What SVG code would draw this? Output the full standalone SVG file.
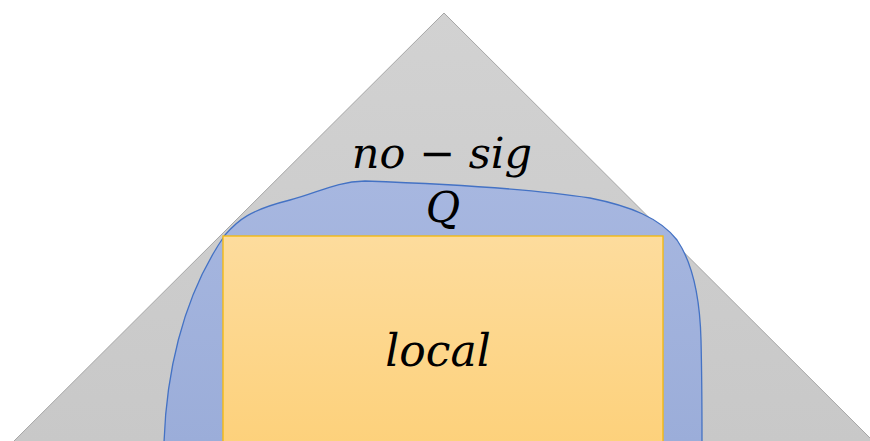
<svg xmlns="http://www.w3.org/2000/svg" width="870" height="441" viewBox="0 0 870 441">
<defs>
<linearGradient id="gGray" x1="0" y1="0" x2="0" y2="1"><stop offset="0" stop-color="#d2d2d2"/><stop offset="1" stop-color="#c8c8c8"/></linearGradient>
<linearGradient id="gBlue" x1="0" y1="0" x2="0" y2="1"><stop offset="0" stop-color="#a7b7e0"/><stop offset="1" stop-color="#9badd9"/></linearGradient>
<linearGradient id="gOrange" x1="0" y1="0" x2="0" y2="1"><stop offset="0" stop-color="#fddc9d"/><stop offset="1" stop-color="#fdd17b"/></linearGradient>
<style>
.lbl{font-family:"DejaVu Serif","Liberation Serif",serif;font-style:italic;fill:#000;text-anchor:middle}
</style>
</defs>
<g id="triangle">
<path d="M444,13 L875,443 L12,443 Z" fill="url(#gGray)" stroke="#a6a6a6" stroke-width="1"/>
</g>
<g id="Q">
<path d="M164,443 C166,380 180,300 225,235 C238,220 250,210 290,200 C320,192 335,182 365,181 C420,183 520,187 590,198 C630,206 660,218 677,240 C694,265 700,300 701,340 C702,380 702,420 702,443 Z" fill="url(#gBlue)" stroke="#4472c4" stroke-width="1.3"/>
</g>
<g id="local">
<rect x="223" y="236" width="440" height="210" fill="url(#gOrange)" stroke="#f5b90a" stroke-width="1.3"/>
</g>
<g id="labels">
<text class="lbl" x="442" y="168" font-size="43">no − sig</text>
<text class="lbl" x="443" y="222" font-size="42">Q</text>
<text class="lbl" x="438" y="366" font-size="44">local</text>
</g>
<g id="connectors"/>
</svg>
